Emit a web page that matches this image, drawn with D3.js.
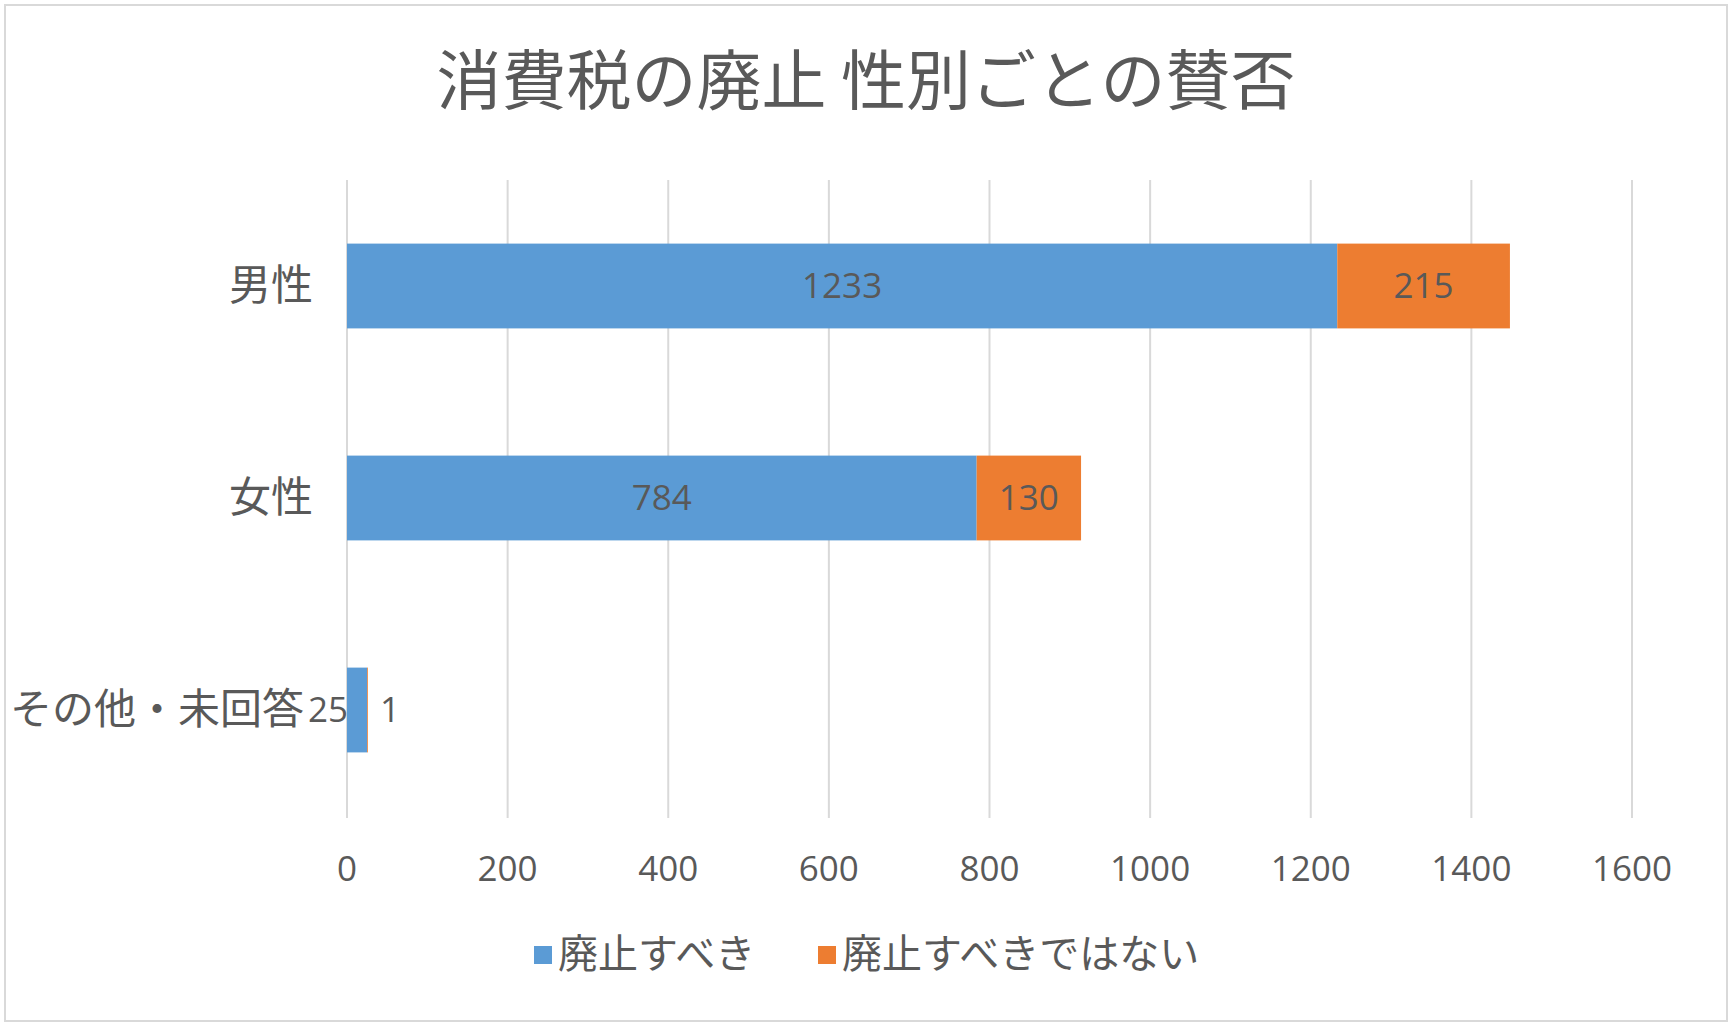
<!DOCTYPE html>
<html><head><meta charset="utf-8">
<script src="https://cdn.jsdelivr.net/npm/d3@7"></script>
<style>
body{margin:0;background:#fff}
text{font-family:"Noto Sans CJK JP","Noto Sans",sans-serif;fill:#595959}
.num{font-family:"Open Sans","Noto Sans",sans-serif}
</style></head>
<body><div id="vis1"></div>
<script>
// chart data
const categories = ['男性', '女性', 'その他・未回答'];
const seriesNames = ['廃止すべき', '廃止すべきではない'];
const abolish = [1233, 784, 25];
const keep = [215, 130, 1];
const ticks = [0, 200, 400, 600, 800, 1000, 1200, 1400, 1600];
const colors = ['#5b9bd5', '#ed7d31'];

const W = 1732, H = 1026;
const svg = d3.select('#vis1').append('svg')
  .attr('width', W).attr('height', H);

// outer frame
svg.append('rect').attr('x', 5).attr('y', 5).attr('width', W - 10).attr('height', H - 10)
  .attr('fill', '#fff').attr('stroke', '#d9d9d9').attr('stroke-width', 2);

svg.append('text').attr('x', 866).attr('y', 104).attr('text-anchor', 'middle')
  .style('font-size', '65px').text('消費税の廃止 性別ごとの賛否');

let x = d3.scaleLinear().domain([0, 1600]).range([347, 1632]);
let y = d3.scaleBand().domain(categories).range([180, 816]).paddingInner(0.6).paddingOuter(0.3);

// gridlines
svg.append('g').selectAll('line').data(ticks).join('line')
  .attr('x1', d => x(d)).attr('x2', d => x(d)).attr('y1', 180).attr('y2', 818)
  .attr('stroke', '#d9d9d9').attr('stroke-width', 2);

// x tick labels
svg.append('g').selectAll('text').data(ticks).join('text')
  .attr('class', 'num').attr('x', d => x(d)).attr('y', 881)
  .attr('text-anchor', 'middle').style('font-size', '35px').text(d => d);

const rows = categories.map((c, i) => ({c, a: abolish[i], k: keep[i]}));
const stacked = d3.stack().keys(['a', 'k'])(rows);
const leftEdge = {}; // leftmost data label per category

stacked.forEach((s, si) => {
  svg.append('g').attr('fill', colors[si]).selectAll('rect').data(s).join('rect')
    .attr('x', d => x(d[0])).attr('y', d => y(d.data.c))
    .attr('width', d => x(d[1]) - x(d[0])).attr('height', y.bandwidth());

  svg.append('g').selectAll('text').data(s).join('text')
    .attr('class', 'num').style('font-size', '35px')
    .attr('y', d => y(d.data.c) + y.bandwidth() / 2 + 12)
    .each(function(d) {
      const w = x(d[1]) - x(d[0]);
      const t = d3.select(this);
      if (w > 60) t.attr('x', (x(d[0]) + x(d[1])) / 2).attr('text-anchor', 'middle');
      else if (si === 0) t.attr('x', x(d[0]) + 1).attr('text-anchor', 'end');
      else t.attr('x', x(d[1]) + 12).attr('text-anchor', 'start');
      t.text(d[1] - d[0]);
      if (si === 0 && w <= 60) leftEdge[d.data.c] = this.getBBox().x;
    });
});

// category labels, kept clear of outside data labels
svg.append('g').selectAll('text').data(categories).join('text')
  .attr('x', d => Math.min(313, (leftEdge[d] ?? 999) - 4))
  .attr('y', d => y(d) + y.bandwidth() / 2 + 14)
  .attr('text-anchor', 'end').style('font-size', '42px').text(d => d);

// legend
const lx = [534, 818];
const lg = svg.append('g').selectAll('g').data(seriesNames).join('g')
  .attr('transform', (d, i) => `translate(${lx[i]},968)`);
lg.append('rect').attr('x', 0).attr('y', -22).attr('width', 18).attr('height', 18)
  .attr('fill', (d, i) => colors[i]);
lg.append('text').attr('x', 24).attr('y', 0).style('font-size', '40px').text(d => d);
</script></body></html>
